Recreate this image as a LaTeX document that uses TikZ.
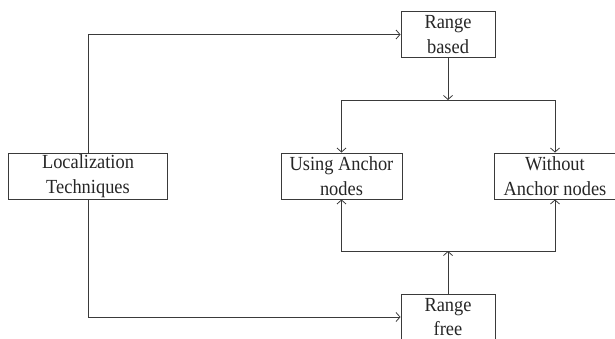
\documentclass[tikz,border=0pt]{standalone}
\usepackage{fontspec}
\setmainfont{Liberation Serif}[FakeStretch=0.92]
\usetikzlibrary{arrows.meta}
\definecolor{ln}{HTML}{3A3A3A}
\begin{document}
\begin{tikzpicture}[x=1pt,y=1pt,
  box/.style={draw=ln,line width=0.9pt,rectangle,inner sep=0pt,minimum height=46pt,align=center,
    font=\fontsize{20}{24.5}\selectfont,text=black!85},
  conn/.style={draw=ln,line width=0.9pt},
  arr/.style={conn,-{Straight Barb[length=4pt,width=9pt,line width=0.8pt]}}]
\useasboundingbox (0,0) rectangle (615,-339);
\clip (0,0) rectangle (615,-339);
\node[box,minimum width=159pt] (loc) at (88,-176) {Localization\\Techniques};
\node[box,minimum width=94pt] (rb) at (448,-34.5) {Range\\based};
\node[box,minimum width=121pt] (using) at (341.5,-176) {Using Anchor\\nodes};
\node[box,minimum width=122pt] (without) at (555,-176) {Without\\Anchor nodes};
\node[box,minimum width=94pt] (rf) at (448,-317) {Range\\free};
\coordinate (top) at (448,-100);
\coordinate (bot) at (448,-251);
\draw[arr] (loc.north) |- (rb.west);
\draw[arr] (loc.south) |- (rf.west);
\draw[arr] (rb.south) -- (top);
\draw[arr] (top) -| (using.north);
\draw[arr] (top) -| (without.north);
\draw[arr] (rf.north) -- (bot);
\draw[arr] (bot) -| (using.south);
\draw[arr] (bot) -| (without.south);
\end{tikzpicture}
\end{document}
